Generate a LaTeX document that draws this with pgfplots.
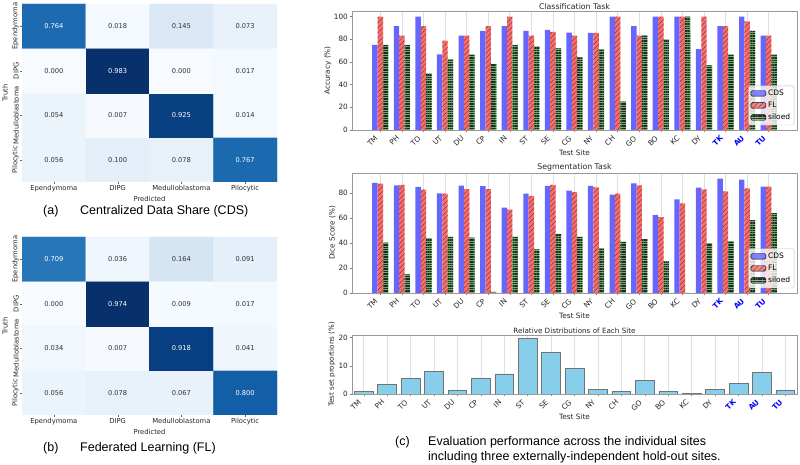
\documentclass[border=0pt]{standalone}
\usepackage{pgfplots}
\pgfplotsset{compat=1.18}
\usepackage{pgfplotstable}
\usepackage{graphicx}
\usepackage{fontspec}
\setmainfont{DejaVu Sans}
\newfontfamily\capfont{Liberation Sans}
\usetikzlibrary{patterns.meta}

\definecolor{cdsblue}{RGB}{102,102,255}
\definecolor{flred}{RGB}{255,105,105}
\definecolor{silgreen}{RGB}{102,175,102}
\definecolor{skyb}{RGB}{135,206,235}
\newcommand{\rl}[1]{\rotatebox{45}{#1}}
\newcommand{\hl}[1]{\rotatebox{45}{\textcolor{blue}{\bfseries #1}}}

\pgfplotsset{
  colormap={myblues}{rgb255=(247,251,255) rgb255=(222,235,247) rgb255=(198,219,239) rgb255=(158,202,225) rgb255=(107,174,214) rgb255=(66,146,198) rgb255=(33,113,181) rgb255=(8,81,156) rgb255=(8,48,107)},
  hm/.style={
    scale only axis, width=255pt, height=178pt,
    xmin=-0.5, xmax=3.5, ymin=-0.5, ymax=3.5,
    axis line style={draw=none},
    xtick={0,1,2,3}, ytick={0,1,2,3},
    xticklabels={Ependymoma,DIPG,Medulloblastoma,Pilocytic},
    yticklabels={Pilocytic,Medulloblastoma,DIPG,Ependymoma},
    tick label style={font=\fontsize{6.8}{8}\selectfont, text=black!85},
    yticklabel style={rotate=90, anchor=south, inner sep=1pt},
    xticklabel style={anchor=north, inner sep=1pt},
    tick style={draw=black!60}, tick align=outside, major tick length=2pt,
    xtick pos=bottom, ytick pos=left,
    xlabel=Predicted, ylabel=Truth,
    label style={font=\fontsize{6.8}{8}\selectfont, text=black!85},
    colormap name=myblues, point meta min=0,
  },
  hmw/.style={draw=none, point meta=explicit symbolic, nodes near coords,
    nodes near coords style={anchor=center, text=white, font=\fontsize{6.7}{8}\selectfont}},
  hmd/.style={draw=none, point meta=explicit symbolic, nodes near coords,
    nodes near coords style={anchor=center, text=black!80, font=\fontsize{6.7}{8}\selectfont}},
  barax/.style={
    scale only axis, width=445pt,
    xmin=-1.3125, xmax=19.3125, ymin=0,
    xtick={0,...,18},
    xticklabels={\rl{TM},\rl{PH},\rl{TO},\rl{UT},\rl{DU},\rl{CP},\rl{IN},\rl{ST},\rl{SE},\rl{CG},\rl{NY},\rl{CH},\rl{GO},\rl{BO},\rl{KC},\rl{DY},\hl{TK},\hl{AU},\hl{TU}},
    axis line style={draw=black!40},
    tick style={draw=black!50, thin},
    tick align=outside, major tick length=2.5pt,
    xtick pos=bottom, ytick pos=left,
    xmajorgrids, grid style={black!12, line width=0.6pt},
    every axis title/.style={at={(0.5,1)}, anchor=south, inner sep=1.5pt, font=\fontsize{7.8}{9}\selectfont, text=black!85},
    xlabel={Test Site},
    every axis x label/.style={at={(axis description cs:0.5,0)}, anchor=center, yshift=-23pt, font=\fontsize{7.3}{8}\selectfont, text=black!85},
    /pgf/number format/assume math mode=true,
    legend style={anchor=south east, font=\fontsize{7.5}{9}\selectfont, draw=black!25, rounded corners=1.5pt, fill=white, fill opacity=0.8, text opacity=1, row sep=1pt, inner sep=2pt},
    legend cell align=left,
  },
  bartl/.style={
    every tick label/.append style={font=\fontsize{7.3}{8}\selectfont, text=black!85},
    every x tick label/.append style={anchor=north east, inner sep=0pt, xshift=-2pt, yshift=-2.5pt},
    every y tick label/.append style={inner sep=1.5pt},
  },
  mylegend/.style={legend image code/.code={\draw[##1] (0pt,-2.8pt) rectangle (15pt,2.8pt);}},
  cdsbar/.style={ybar, bar width=0.25, bar shift=-0.25, fill=cdsblue, draw=none, mylegend},
  flbar/.style={ybar, bar width=0.25, bar shift=0, fill=flred, draw=none,
    postaction={pattern={Lines[angle=45,distance=3.5pt,line width=0.35pt]}, pattern color=black!75}, mylegend},
  silbar/.style={ybar, bar width=0.25, bar shift=0.25, fill=silgreen, draw=none,
    postaction={pattern={Lines[angle=0,distance=1.7pt,line width=0.55pt]}, pattern color=black!85}, mylegend},
}

\pgfplotstableread{
x y c
0 0 0.056
1 0 0.100
2 0 0.078
3 0 0.767
0 1 0.054
1 1 0.007
2 1 0.925
3 1 0.014
0 2 0.000
1 2 0.983
2 2 0.000
3 2 0.017
0 3 0.764
1 3 0.018
2 3 0.145
3 3 0.073
}\cma

\pgfplotstableread{
x y c
0 0 0.056
1 0 0.078
2 0 0.067
3 0 0.800
0 1 0.034
1 1 0.007
2 1 0.918
3 1 0.041
0 2 0.000
1 2 0.974
2 2 0.009
3 2 0.017
0 3 0.709
1 3 0.036
2 3 0.164
3 3 0.091
}\cmb

\pgfplotstableread{
x cds fl sil
0 75 100 75
1 91.7 83.3 75
2 100 91.7 50
3 66.7 78.9 62.5
4 83.3 83.3 66.7
5 87.5 91.7 58.3
6 91.7 100 75
7 87.5 83.3 73.7
8 88.3 86.5 72
9 86 83.3 64
10 85.7 85.7 71.4
11 100 100 25
12 91.7 83.3 83.3
13 100 100 80
14 100 100 100
15 71.4 100 57.1
16 91.7 91.7 66.7
17 100 95.8 87.5
18 83.3 83.3 66.7
}\cls

\pgfplotstableread{
x cds fl sil
0 88.3 87.8 40.5
1 86.4 86.7 15
2 85.1 83 44
3 80 79.8 45.3
4 86.2 83.4 44.5
5 85.7 83.3 1
6 68.5 67 45.3
7 79.7 77.9 35
8 86 86.8 47.5
9 82.1 81 45.3
10 85.9 84.8 36
11 79 79.7 41.3
12 88 86.4 43.2
13 62.4 60.8 25.3
14 75.2 72 0
15 84.5 83.2 40
16 91.7 81.6 41.6
17 91 84 58.4
18 85.3 85.3 64
}\seg

\pgfplotstableread{
x p
0 0.9
1 3.5
2 5.5
3 7.9
4 1.4
5 5.7
6 7.1
7 19.9
8 14.7
9 9.1
10 1.6
11 0.9
12 4.9
13 1.05
14 0.2
15 1.6
16 3.7
17 7.7
18 1.4
}\dist

\begin{document}
\begin{tikzpicture}
\useasboundingbox (0pt,0pt) rectangle (800pt,465pt);

% (a) CDS confusion matrix
\begin{axis}[hm, at={(22pt,283pt)}, anchor=south west, point meta max=0.983]
\addplot[matrix plot*, mesh/cols=4, mesh/rows=4, point meta=explicit] table[x=x,y=y,meta=c]{\cma};
\addplot[hmw] coordinates {(0,3) [0.764] (1,2) [0.983] (2,1) [0.925] (3,0) [0.767]};
\addplot[hmd] coordinates {(1,3) [0.018] (2,3) [0.145] (3,3) [0.073]
  (0,2) [0.000] (2,2) [0.000] (3,2) [0.017]
  (0,1) [0.054] (1,1) [0.007] (3,1) [0.014]
  (0,0) [0.056] (1,0) [0.100] (2,0) [0.078]};
\end{axis}

% (b) FL confusion matrix
\begin{axis}[hm, at={(22pt,50pt)}, anchor=south west, point meta max=0.974]
\addplot[matrix plot*, mesh/cols=4, mesh/rows=4, point meta=explicit] table[x=x,y=y,meta=c]{\cmb};
\addplot[hmw] coordinates {(0,3) [0.709] (1,2) [0.974] (2,1) [0.918] (3,0) [0.800]};
\addplot[hmd] coordinates {(1,3) [0.036] (2,3) [0.164] (3,3) [0.091]
  (0,2) [0.000] (2,2) [0.009] (3,2) [0.017]
  (0,1) [0.034] (1,1) [0.007] (3,1) [0.041]
  (0,0) [0.056] (1,0) [0.078] (2,0) [0.067]};
\end{axis}

% Classification
\begin{axis}[barax, bartl, at={(352pt,335pt)}, anchor=south west, height=119pt,
  ymax=105, ytick={0,20,40,60,80,100},
  title={Classification Task}, ylabel={Accuracy (\%)},
  ylabel style={at={(axis description cs:-0.054,0.5)}, anchor=center, font=\fontsize{7.3}{8}\selectfont, text=black!85},
  legend style={at={(0.994,0.04)}}]
\addplot[cdsbar] table[x=x,y=cds]{\cls};
\addplot[flbar] table[x=x,y=fl]{\cls};
\addplot[silbar] table[x=x,y=sil]{\cls};
\legend{CDS,FL,siloed}
\end{axis}

% Segmentation
\begin{axis}[barax, bartl, at={(352pt,172pt)}, anchor=south west, height=120pt,
  ymax=96.3, ytick={0,20,40,60,80},
  title={Segmentation Task}, ylabel={Dice Score (\%)},
  ylabel style={at={(axis description cs:-0.044,0.5)}, anchor=center, font=\fontsize{7.3}{8}\selectfont, text=black!85},
  legend style={at={(0.994,0.04)}}]
\addplot[cdsbar] table[x=x,y=cds]{\seg};
\addplot[flbar] table[x=x,y=fl]{\seg};
\addplot[silbar] table[x=x,y=sil]{\seg};
\legend{CDS,FL,siloed}
\end{axis}

% Distribution
\begin{axis}[barax, bartl, at={(352pt,71pt)}, anchor=south west, height=59pt,
  xmin=-0.5, xmax=18.5, ymax=20.9, ytick={0,10,20},
  title={Relative Distributions of Each Site},
  title style={font=\fontsize{7.2}{8}\selectfont},
  ylabel={Test set proportions (\%)},
  ylabel style={at={(axis description cs:-0.045,0.5)}, anchor=center, font=\fontsize{7.1}{8}\selectfont, text=black!85}]
\addplot[ybar, bar width=0.8, bar shift=0, fill=skyb, draw=black!55, line width=0.6pt] table[x=x,y=p]{\dist};
\end{axis}

% captions
\node[anchor=west, inner sep=0pt, font=\capfont\fontsize{12.5}{15}\selectfont] at (43pt,254pt) {(a)};
\node[anchor=west, inner sep=0pt, font=\capfont\fontsize{12.5}{15}\selectfont] at (80pt,254pt) {Centralized Data Share (CDS)};
\node[anchor=west, inner sep=0pt, font=\capfont\fontsize{12.5}{15}\selectfont] at (43pt,17pt) {(b)};
\node[anchor=west, inner sep=0pt, font=\capfont\fontsize{12.5}{15}\selectfont] at (80pt,17pt) {Federated Learning (FL)};
\node[anchor=west, inner sep=0pt, font=\capfont\fontsize{12.5}{15}\selectfont] at (395pt,23pt) {(c)};
\node[anchor=west, inner sep=0pt, font=\capfont\fontsize{12.5}{15}\selectfont] at (428pt,23pt) {Evaluation performance across the individual sites};
\node[anchor=west, inner sep=0pt, font=\capfont\fontsize{12.5}{15}\selectfont] at (428pt,8pt) {including three externally-independent hold-out sites.};
\end{tikzpicture}
\end{document}
